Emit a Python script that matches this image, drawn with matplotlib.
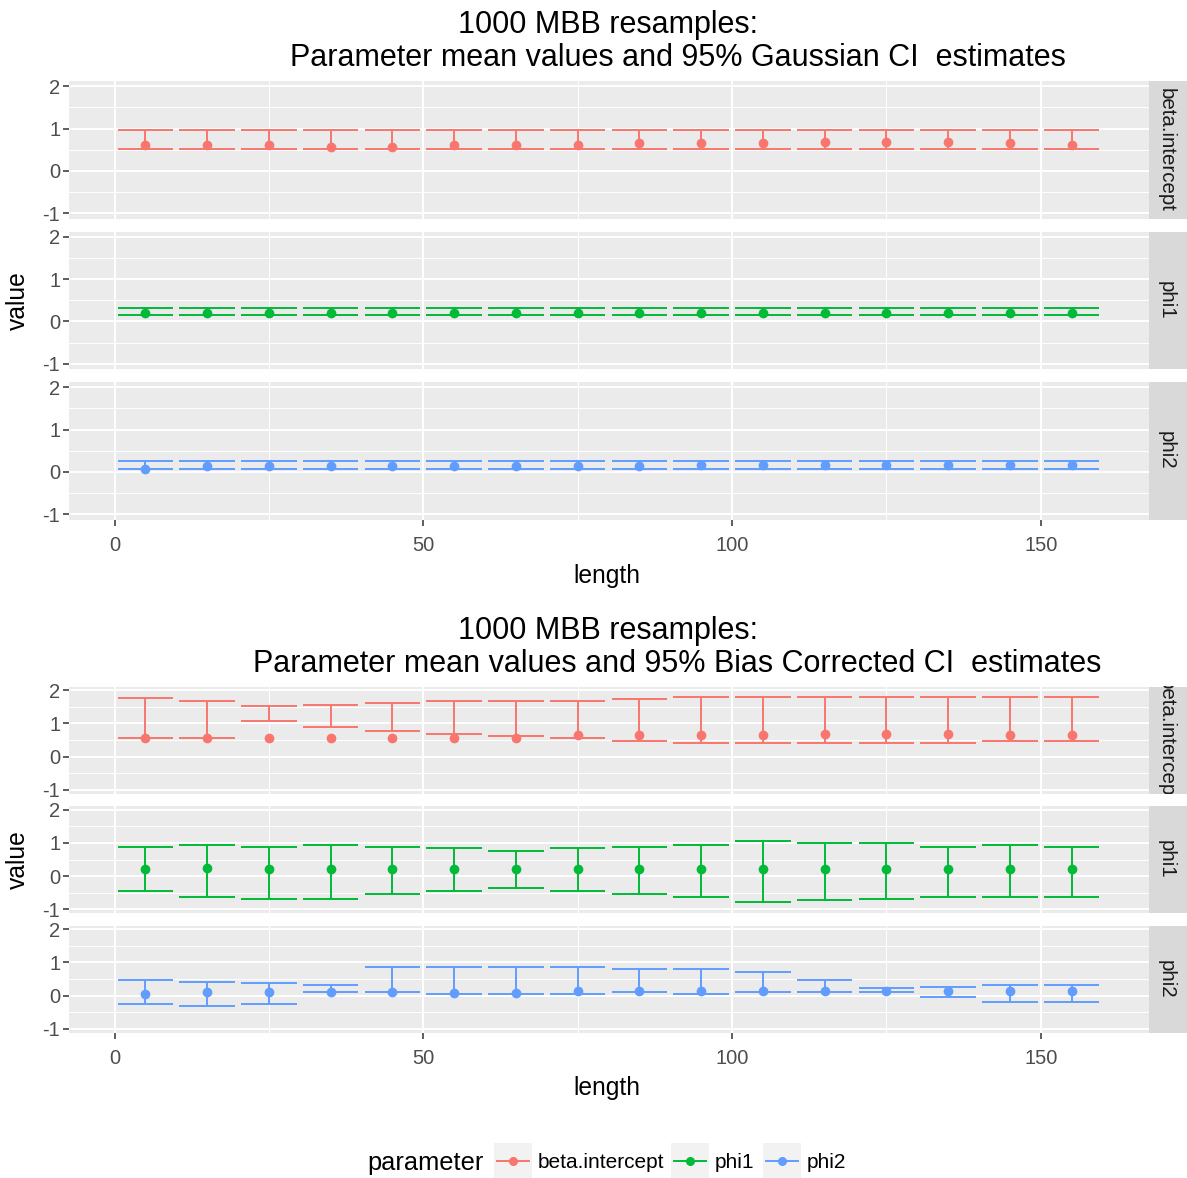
import numpy as np
import matplotlib
matplotlib.use("Agg")
import matplotlib.pyplot as plt
from matplotlib.patches import Rectangle
from matplotlib.lines import Line2D

plt.rcParams['font.family'] = ['Liberation Sans', 'DejaVu Sans']
plt.rcParams['axes.unicode_minus'] = False

# block lengths (x categories)
lengths = [5, 15, 25, 35, 45, 55, 65, 75, 85, 95, 105, 115, 125, 135, 145, 155]
params = ["beta.intercept", "phi1", "phi2"]
colors = ["#F8766D", "#00BA38", "#619CFF"]

# Gaussian CI
g_beta_mean = [0.61, 0.61, 0.61, 0.555, 0.555, 0.61, 0.61, 0.61, 0.65, 0.65, 0.65, 0.69, 0.69, 0.69, 0.65, 0.61]
g_beta_lo = [0.515, 0.515, 0.515, 0.515, 0.515, 0.515, 0.515, 0.515, 0.515, 0.515, 0.515, 0.515, 0.515, 0.515, 0.515, 0.515]
g_beta_hi = [0.96, 0.96, 0.96, 0.96, 0.96, 0.96, 0.96, 0.96, 0.96, 0.96, 0.96, 0.96, 0.96, 0.96, 0.96, 0.96]
g_phi1_mean = [0.21, 0.21, 0.21, 0.21, 0.21, 0.21, 0.21, 0.21, 0.21, 0.21, 0.21, 0.21, 0.21, 0.21, 0.21, 0.21]
g_phi1_lo = [0.15, 0.15, 0.15, 0.15, 0.15, 0.15, 0.15, 0.15, 0.15, 0.15, 0.15, 0.15, 0.15, 0.15, 0.15, 0.15]
g_phi1_hi = [0.32, 0.32, 0.32, 0.32, 0.32, 0.32, 0.32, 0.32, 0.32, 0.32, 0.32, 0.32, 0.32, 0.32, 0.32, 0.32]
g_phi2_mean = [0.06, 0.13, 0.13, 0.13, 0.13, 0.13, 0.13, 0.13, 0.13, 0.17, 0.17, 0.17, 0.17, 0.17, 0.17, 0.17]
g_phi2_lo = [0.08, 0.08, 0.08, 0.08, 0.08, 0.08, 0.08, 0.08, 0.08, 0.08, 0.08, 0.08, 0.08, 0.08, 0.08, 0.08]
g_phi2_hi = [0.25, 0.25, 0.25, 0.25, 0.25, 0.25, 0.25, 0.25, 0.25, 0.25, 0.25, 0.25, 0.25, 0.25, 0.25, 0.25]

# Bias corrected CI
b_beta_mean = [0.57, 0.57, 0.57, 0.57, 0.57, 0.57, 0.57, 0.64, 0.64, 0.64, 0.64, 0.69, 0.69, 0.69, 0.64, 0.64]
b_beta_lo = [0.57, 0.57, 1.09, 0.89, 0.78, 0.69, 0.62, 0.57, 0.46, 0.41, 0.41, 0.41, 0.41, 0.41, 0.46, 0.46]
b_beta_hi = [1.78, 1.68, 1.52, 1.57, 1.62, 1.68, 1.68, 1.68, 1.73, 1.80, 1.80, 1.80, 1.80, 1.80, 1.80, 1.80]
b_phi1_mean = [0.20, 0.25, 0.20, 0.20, 0.20, 0.20, 0.20, 0.20, 0.20, 0.20, 0.20, 0.20, 0.20, 0.20, 0.20, 0.20]
b_phi1_lo = [-0.46, -0.64, -0.69, -0.69, -0.53, -0.46, -0.36, -0.46, -0.53, -0.64, -0.79, -0.74, -0.69, -0.64, -0.64, -0.64]
b_phi1_hi = [0.89, 0.95, 0.89, 0.95, 0.89, 0.84, 0.77, 0.84, 0.89, 0.95, 1.05, 1.00, 1.00, 0.89, 0.95, 0.89]
b_phi2_mean = [0.05, 0.12, 0.12, 0.12, 0.10, 0.08, 0.08, 0.15, 0.15, 0.15, 0.15, 0.15, 0.15, 0.15, 0.15, 0.15]
b_phi2_lo = [-0.26, -0.32, -0.27, 0.12, 0.12, 0.06, 0.06, 0.06, 0.12, 0.06, 0.12, 0.12, 0.12, -0.04, -0.21, -0.21]
b_phi2_hi = [0.47, 0.42, 0.37, 0.32, 0.86, 0.86, 0.86, 0.86, 0.81, 0.81, 0.71, 0.47, 0.22, 0.27, 0.32, 0.32]

W, H = 1187, 1178
fig = plt.figure(figsize=(W / 100, H / 100), dpi=100)


def px_axes(x0, y0, x1, y1):
    return fig.add_axes([x0 / W, 1 - y1 / H, (x1 - x0) / W, (y1 - y0) / H])


def draw_panel(ax, means, lo, hi, color, show_x):
    ax.set_facecolor("#EBEBEB")
    ax.set_xlim(-7.45, 167.45)
    ax.set_ylim(-1.12, 2.12)
    ax.set_xticks([0, 50, 100, 150])
    ax.set_xticks([25, 75, 125], minor=True)
    ax.set_yticks([-1, 0, 1, 2])
    ax.set_yticks([-0.5, 0.5, 1.5], minor=True)
    ax.grid(which='major', color='white', lw=1.4)
    ax.grid(which='minor', color='white', lw=0.7)
    ax.set_axisbelow(True)
    for s in ax.spines.values():
        s.set_visible(False)
    ax.tick_params(which='minor', length=0)
    ax.tick_params(which='major', length=4, width=1.1, color='#333333',
                   labelsize=14.5, labelcolor='#4D4D4D', pad=2)
    ax.tick_params(axis='x', pad=8)
    if not show_x:
        ax.tick_params(axis='x', which='both', length=0, labelbottom=False)
    x = np.array(lengths)
    ax.vlines(x, lo, hi, color=color, lw=1.4)
    ax.hlines(lo, x - 4.5, x + 4.5, color=color, lw=1.4)
    ax.hlines(hi, x - 4.5, x + 4.5, color=color, lw=1.4)
    ax.plot(x, means, 'o', color=color, ms=7, mec='none')


def draw_block(top, ph, gap, series, line2, line2_x):
    for i, (m, lo, hi) in enumerate(series):
        y0 = top + i * (ph + gap)
        ax = px_axes(68.5, y0, 1148.5, y0 + ph)
        draw_panel(ax, m, lo, hi, colors[i], i == 2)
        st = px_axes(1148.5, y0, 1187, y0 + ph)
        st.set_facecolor("#D9D9D9")
        st.set_xticks([])
        st.set_yticks([])
        for s in st.spines.values():
            s.set_visible(False)
        st.text(0.45, 0.5, params[i], rotation=-90, ha='center', va='center',
                fontsize=14.8, color='#1A1A1A', transform=st.transAxes, clip_on=True)
    bottom = top + 3 * ph + 2 * gap
    fig.text(608 / W, 1 - (top - 48) / H, "1000 MBB resamples:", ha='center',
             va='baseline', fontsize=22)
    fig.text(line2_x / W, 1 - (top - 15) / H, line2, ha='center',
             va='baseline', fontsize=22)
    fig.text(607 / W, 1 - (bottom + 56) / H, "length", ha='center', va='center',
             fontsize=17.7)
    fig.text(18 / W, 1 - ((top + bottom) / 2) / H, "value", ha='center', va='center',
             rotation=90, fontsize=17.7)


draw_block(81, 137.5, 13,
           [(g_beta_mean, g_beta_lo, g_beta_hi),
            (g_phi1_mean, g_phi1_lo, g_phi1_hi),
            (g_phi2_mean, g_phi2_lo, g_phi2_hi)],
           "Parameter mean values and 95% Gaussian CI  estimates", 678)

draw_block(686.5, 107, 12.5,
           [(b_beta_mean, b_beta_lo, b_beta_hi),
            (b_phi1_mean, b_phi1_lo, b_phi1_hi),
            (b_phi2_mean, b_phi2_lo, b_phi2_hi)],
           "Parameter mean values and 95% Bias Corrected CI  estimates", 677)

# legend
lg = px_axes(0, 1130, W, H)
lg.set_xlim(0, W)
lg.set_ylim(H, 1130)
lg.axis('off')
lg.text(367, 1163, "parameter", ha='left', va='center', fontsize=18.3)
key_x = [494, 671, 762.5]
for kx, name, col in zip(key_x, params, colors):
    lg.add_patch(Rectangle((kx, 1143), 38, 36, facecolor="#F2F2F2", edgecolor='none'))
    lg.add_line(Line2D([kx + 3, kx + 35], [1161, 1161], color=col, lw=1.4))
    lg.plot([kx + 19], [1161], 'o', color=col, ms=6.5, mec='none')
    lg.text(kx + 44, 1162, name, ha='left', va='center', fontsize=15)

fig.savefig("out.png", dpi=100)
